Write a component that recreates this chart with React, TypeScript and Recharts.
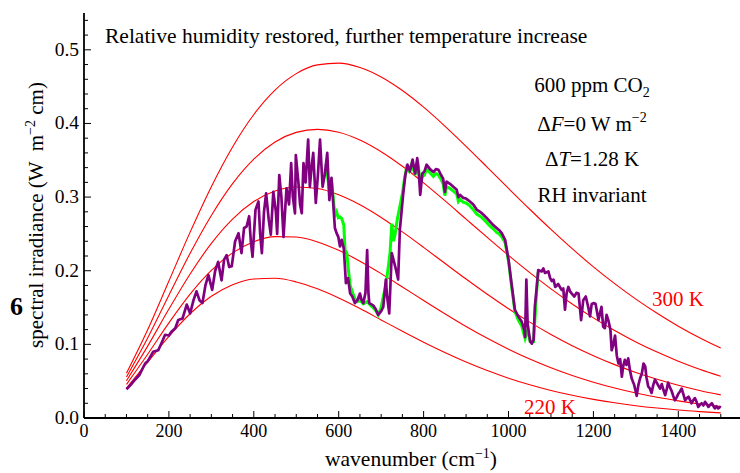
import React from "react";
import { ComposedChart, Line, XAxis, YAxis } from "recharts";

// Wavenumber grid for the Planck reference curves (cm^-1)
const nuGrid = [100,150,200,250,300,350,400,450,500,550,600,650,700,750,800,850,900,950,1000,1050,1100,1150,1200,1250,1300,1350,1400,1450,1500];
const planck300 = [0.0608,0.1199,0.1860,0.2524,0.3142,0.3681,0.4122,0.4454,0.4677,0.4795,0.4819,0.4760,0.4632,0.4448,0.4222,0.3965,0.3690,0.3405,0.3118,0.2835,0.2561,0.2299,0.2053,0.1825,0.1614,0.1422,0.1247,0.1090,0.0949];
const planck280 = [0.0557,0.1087,0.1668,0.2237,0.2751,0.3183,0.3516,0.3748,0.3879,0.3920,0.3881,0.3775,0.3616,0.3418,0.3193,0.2951,0.2701,0.2452,0.2208,0.1974,0.1754,0.1549,0.1360,0.1188,0.1033,0.0895,0.0772,0.0663,0.0568];
const planck260 = [0.0506,0.0976,0.1479,0.1956,0.2372,0.2702,0.2939,0.3082,0.3137,0.3116,0.3031,0.2896,0.2724,0.2527,0.2317,0.2101,0.1887,0.1680,0.1484,0.1302,0.1134,0.0982,0.0846,0.0725,0.0618,0.0525,0.0444,0.0374,0.0314];
const planck240 = [0.0456,0.0866,0.1292,0.1682,0.2004,0.2243,0.2394,0.2463,0.2457,0.2391,0.2277,0.2130,0.1961,0.1780,0.1596,0.1416,0.1243,0.1082,0.0935,0.0801,0.0682,0.0577,0.0486,0.0407,0.0339,0.0281,0.0233,0.0191,0.0157];
const planck220 = [0.0405,0.0758,0.1109,0.1416,0.1653,0.1810,0.1888,0.1897,0.1848,0.1754,0.1629,0.1486,0.1332,0.1178,0.1029,0.0889,0.0760,0.0644,0.0541,0.0452,0.0374,0.0308,0.0253,0.0206,0.0167,0.0135,0.0108,0.0087,0.0069];

// Purple spectrum: [wavenumber, irradiance]
const spectrumPurple = [
[100,0.039],[110,0.045],[120,0.052],[130,0.058],[144,0.074],[150,0.077],[163,0.090],[175,0.092],[185,0.105],[191,0.113],
[200,0.112],[206,0.117],[215,0.122],[222,0.133],[232,0.135],[242,0.154],[250,0.142],[258,0.160],[265,0.172],[272,0.160],
[279,0.156],[286,0.180],[293,0.194],[302,0.174],[309,0.200],[316,0.212],[324,0.187],[330,0.215],[336,0.221],[342,0.205],
[348,0.206],[356,0.240],[364,0.251],[371,0.224],[377,0.258],[383,0.260],[389,0.274],[393,0.240],[397,0.219],[404,0.283],
[411,0.294],[415,0.250],[419,0.224],[424,0.280],[429,0.305],[435,0.270],[440,0.249],[446,0.307],[452,0.280],[455,0.250],
[460,0.330],[465,0.300],[470,0.246],[477,0.312],[483,0.290],[488,0.346],[492,0.300],[497,0.278],[499,0.357],[505,0.320],
[509,0.290],[513,0.278],[517,0.346],[522,0.320],[528,0.378],[532,0.314],[536,0.340],[540,0.360],[546,0.292],[551,0.330],
[556,0.378],[562,0.314],[567,0.330],[573,0.360],[578,0.296],[583,0.326],[587,0.292],[591,0.258],[595,0.251],[599,0.246],
[603,0.233],[607,0.242],[612,0.230],[617,0.183],[622,0.190],[627,0.169],[632,0.165],[638,0.156],[644,0.160],[650,0.169],
[654,0.160],[658,0.156],[663,0.170],[667,0.228],[670,0.170],[672,0.156],[681,0.153],[687,0.148],[693,0.140],[700,0.145],
[705,0.151],[711,0.188],[714,0.165],[719,0.142],[725,0.224],[729,0.215],[733,0.206],[740,0.188],[744,0.255],[748,0.280],
[752,0.305],[757,0.330],[762,0.344],[768,0.335],[774,0.351],[780,0.332],[785,0.353],[789,0.330],[792,0.303],[797,0.332],
[802,0.335],[807,0.344],[815,0.338],[823,0.334],[829,0.338],[835,0.337],[841,0.330],[846,0.325],[850,0.307],[854,0.321],
[862,0.318],[870,0.314],[878,0.310],[882,0.300],[886,0.303],[893,0.299],[900,0.298],[909,0.294],[917,0.290],[925,0.283],
[933,0.280],[941,0.276],[948,0.272],[956,0.267],[964,0.262],[972,0.258],[978,0.255],[984,0.251],[992,0.242],[1000,0.215],
[1007,0.183],[1015,0.147],[1023,0.138],[1031,0.131],[1037,0.120],[1039,0.110],[1042,0.188],[1045,0.128],[1051,0.104],[1055,0.101],
[1059,0.106],[1062,0.151],[1066,0.175],[1070,0.201],[1078,0.199],[1082,0.203],[1086,0.197],[1094,0.199],[1098,0.190],[1102,0.186],
[1106,0.188],[1110,0.178],[1117,0.182],[1125,0.174],[1129,0.176],[1133,0.147],[1137,0.170],[1141,0.178],[1145,0.172],[1149,0.169],
[1155,0.165],[1160,0.170],[1165,0.169],[1171,0.133],[1176,0.160],[1182,0.165],[1188,0.150],[1192,0.138],[1196,0.155],[1200,0.156],
[1205,0.155],[1212,0.133],[1219,0.151],[1223,0.124],[1227,0.122],[1231,0.140],[1235,0.133],[1240,0.120],[1243,0.092],[1247,0.100],
[1251,0.112],[1255,0.085],[1259,0.074],[1263,0.080],[1267,0.056],[1270,0.070],[1274,0.079],[1278,0.072],[1282,0.081],[1286,0.065],
[1290,0.054],[1296,0.045],[1302,0.030],[1306,0.045],[1310,0.054],[1314,0.060],[1318,0.074],[1322,0.070],[1325,0.055],[1329,0.043],
[1333,0.040],[1337,0.034],[1341,0.045],[1345,0.052],[1349,0.048],[1353,0.044],[1357,0.040],[1361,0.046],[1365,0.038],[1369,0.031],
[1373,0.040],[1376,0.048],[1380,0.042],[1384,0.037],[1388,0.030],[1392,0.024],[1396,0.028],[1400,0.033],[1404,0.036],[1408,0.040],
[1412,0.032],[1416,0.024],[1420,0.027],[1424,0.029],[1428,0.024],[1431,0.020],[1435,0.024],[1439,0.027],[1443,0.022],[1447,0.015],
[1451,0.018],[1455,0.020],[1459,0.017],[1463,0.022],[1467,0.019],[1471,0.015],[1475,0.018],[1479,0.020],[1483,0.016],[1486,0.013],
[1490,0.016],[1494,0.013],[1498,0.015],[1500,0.014]
];

// Green spectrum (visible where it departs from the purple one)
const spectrumGreen = [
[570,0.345],[578,0.310],[583,0.322],[587,0.300],[591,0.275],[595,0.280],[599,0.272],[603,0.273],[607,0.271],[612,0.262],
[615,0.228],[619,0.224],[623,0.200],[627,0.180],[634,0.168],[638,0.162],[644,0.158],[650,0.160],[658,0.155],[667,0.158],
[675,0.153],[681,0.150],[687,0.146],[693,0.140],[700,0.150],[705,0.165],[711,0.180],[717,0.206],[721,0.225],[725,0.264],
[729,0.240],[733,0.250],[738,0.270],[744,0.287],[750,0.305],[755,0.325],[760,0.340],[766,0.335],[772,0.345],[780,0.330],
[786,0.348],[792,0.320],[797,0.328],[802,0.330],[807,0.338],[815,0.333],[823,0.328],[829,0.332],[835,0.330],[841,0.324],
[846,0.318],[850,0.302],[854,0.314],[862,0.312],[870,0.308],[878,0.304],[882,0.294],[886,0.297],[893,0.293],[900,0.292],
[909,0.288],[917,0.283],[925,0.277],[933,0.274],[941,0.270],[948,0.266],[956,0.261],[964,0.257],[972,0.252],[978,0.250],
[984,0.246],[992,0.238],[1000,0.213],[1007,0.180],[1015,0.145],[1023,0.133],[1031,0.125],[1039,0.108],[1045,0.120],[1051,0.104],
[1059,0.104],[1066,0.170],[1070,0.198]
];

const xTicks = [0,50,100,150,200,250,300,350,400,450,500,550,600,650,700,750,800,850,900,950,1000,1050,1100,1150,1200,1250,1300,1350,1400,1450,1500,1550];
const xMajor = [0,200,400,600,800,1000,1200,1400];
const yTicks = [0,0.02,0.04,0.06,0.08,0.1,0.12,0.14,0.16,0.18,0.2,0.22,0.24,0.26,0.28,0.3,0.32,0.34,0.36,0.38,0.4,0.42,0.44,0.46,0.48,0.5,0.52,0.54];
const yMajor = [0,0.1,0.2,0.3,0.4,0.5];
const yMajorLabels = ["0.0","0.1","0.2","0.3","0.4","0.5"];

const planckRows = nuGrid.map((nu, i) => ({
  nu,
  t220: planck220[i],
  t240: planck240[i],
  t260: planck260[i],
  t280: planck280[i],
  t300: planck300[i],
}));
const purpleRows = spectrumPurple.map(([nu, v]) => ({ nu, v }));
const greenRows = spectrumGreen.map(([nu, v]) => ({ nu, v }));

const FONT = "'Liberation Serif', 'Times New Roman', serif";

const isYMajor = (v: number) => yMajor.some((m) => Math.abs(m - v) < 1e-9);
const yLabel = (v: number) => {
  const i = yMajor.findIndex((m) => Math.abs(m - v) < 1e-9);
  return i >= 0 ? yMajorLabels[i] : "";
};

const BottomTick = (props: any) => {
  const { x, y, payload } = props;
  const major = xMajor.includes(payload.value);
  return (
    <g>
      <line x1={x} x2={x} y1={y} y2={y - (major ? 7 : 4)} stroke="#000" strokeWidth={1} />
      {major && (
        <text x={x} y={y + 19} textAnchor="middle" fontFamily={FONT} fontSize={18} fill="#000">
          {payload.value}
        </text>
      )}
    </g>
  );
};
const TopTick = (props: any) => {
  const { x, y, payload } = props;
  const major = xMajor.includes(payload.value);
  return <line x1={x} x2={x} y1={y} y2={y + (major ? 7 : 4)} stroke="#000" strokeWidth={1} />;
};
const LeftTick = (props: any) => {
  const { x, y, payload } = props;
  const major = isYMajor(payload.value);
  return (
    <g>
      <line x1={x} x2={x + (major ? 7 : 4)} y1={y} y2={y} stroke="#000" strokeWidth={1} />
      {major && (
        <text x={x - 5} y={y + 6} textAnchor="end" fontFamily={FONT} fontSize={19.5} fill="#000">
          {yLabel(payload.value)}
        </text>
      )}
    </g>
  );
};
const RightTick = (props: any) => {
  const { x, y, payload } = props;
  const major = isYMajor(payload.value);
  return <line x1={x} x2={x - (major ? 7 : 4)} y1={y} y2={y} stroke="#000" strokeWidth={1} />;
};

export default function App() {
  return (
    <div style={{ position: "absolute", left: 0, top: 0, width: 740, height: 473, overflow: "hidden", background: "#fff" }}>
      <ComposedChart width={746} height={473} margin={{ top: 13, right: 4, bottom: 0, left: 0 }}>
        <XAxis
          xAxisId="main"
          dataKey="nu"
          type="number"
          domain={[0, 1550]}
          allowDataOverflow
          ticks={xTicks}
          interval={0}
          height={55}
          tickSize={0}
          tickMargin={0}
          tickLine={false}
          tick={<BottomTick />}
          axisLine={{ stroke: "#000", strokeWidth: 1.8 }}
        />
        <XAxis
          xAxisId="top"
          orientation="top"
          dataKey="nu"
          type="number"
          domain={[0, 1550]}
          allowDataOverflow
          ticks={xTicks}
          interval={0}
          height={0}
          tickSize={0}
          tickMargin={0}
          tickLine={false}
          tick={<TopTick />}
          axisLine={{ stroke: "#000", strokeWidth: 1.8 }}
        />
        <YAxis
          yAxisId="main"
          type="number"
          domain={[0, 0.55]}
          allowDataOverflow
          ticks={yTicks}
          interval={0}
          width={84}
          tickSize={0}
          tickMargin={0}
          tickLine={false}
          tick={<LeftTick />}
          axisLine={{ stroke: "#000", strokeWidth: 1.8 }}
        />
        <YAxis
          yAxisId="right"
          orientation="right"
          type="number"
          domain={[0, 0.55]}
          allowDataOverflow
          ticks={yTicks}
          interval={0}
          width={0}
          tickSize={0}
          tickMargin={0}
          tickLine={false}
          tick={<RightTick />}
          axisLine={{ stroke: "#000", strokeWidth: 1.8 }}
        />
        {(["t220", "t240", "t260", "t280", "t300"] as const).map((k) => (
          <Line
            key={k}
            xAxisId="main"
            yAxisId="main"
            data={planckRows}
            dataKey={k}
            type="monotone"
            stroke="#ff0000"
            strokeWidth={1.1}
            dot={false}
            activeDot={false}
            isAnimationActive={false}
          />
        ))}
        <Line
          xAxisId="main"
          yAxisId="main"
          data={greenRows}
          dataKey="v"
          type="linear"
          stroke="#00ff00"
          strokeWidth={3}
          dot={false}
          activeDot={false}
          isAnimationActive={false}
        />
        <Line
          xAxisId="main"
          yAxisId="main"
          data={purpleRows}
          dataKey="v"
          type="linear"
          stroke="#800080"
          strokeWidth={2.7}
          strokeLinejoin="round"
          dot={false}
          activeDot={false}
          isAnimationActive={false}
        />
      </ComposedChart>
      <svg width={740} height={473} style={{ position: "absolute", left: 0, top: 0, pointerEvents: "none" }} fontFamily={FONT}>
        <text x={105} y={43} fontSize={21.5} fill="#000">Relative humidity restored, further temperature increase</text>
        <text x={592} y={92} fontSize={21} textAnchor="middle" fill="#000">
          600 ppm CO<tspan fontSize={14} dy={5}>2</tspan>
        </text>
        <text x={592} y={131} fontSize={21} textAnchor="middle" fill="#000">
          Δ<tspan fontStyle="italic">F</tspan>=0 W m<tspan fontSize={14} dy={-9}>−2</tspan>
        </text>
        <text x={592} y={166} fontSize={21} textAnchor="middle" fill="#000">
          Δ<tspan fontStyle="italic">T</tspan>=1.28 K
        </text>
        <text x={592} y={202} fontSize={21} textAnchor="middle" fill="#000">RH invariant</text>
        <text x={652} y={306} fontSize={21} fill="#ff0000">300 K</text>
        <text x={524} y={414} fontSize={21} fill="#ff0000">220 K</text>
        <text x={10} y={315} fontSize={26} fontWeight="bold" fill="#000">6</text>
        <text x={411} y={466} fontSize={21.5} textAnchor="middle" fill="#000">
          wavenumber (cm<tspan fontSize={14} dy={-8}>−1</tspan><tspan dy={8}>)</tspan>
        </text>
        <text transform="translate(43,215) rotate(-90)" x={0} y={0} fontSize={21} textAnchor="middle" fill="#000" style={{ whiteSpace: "pre" }}>
          spectral irradiance (W  m<tspan fontSize={14} dy={-8}>−2</tspan><tspan dy={8}> cm)</tspan>
        </text>
      </svg>
    </div>
  );
}
